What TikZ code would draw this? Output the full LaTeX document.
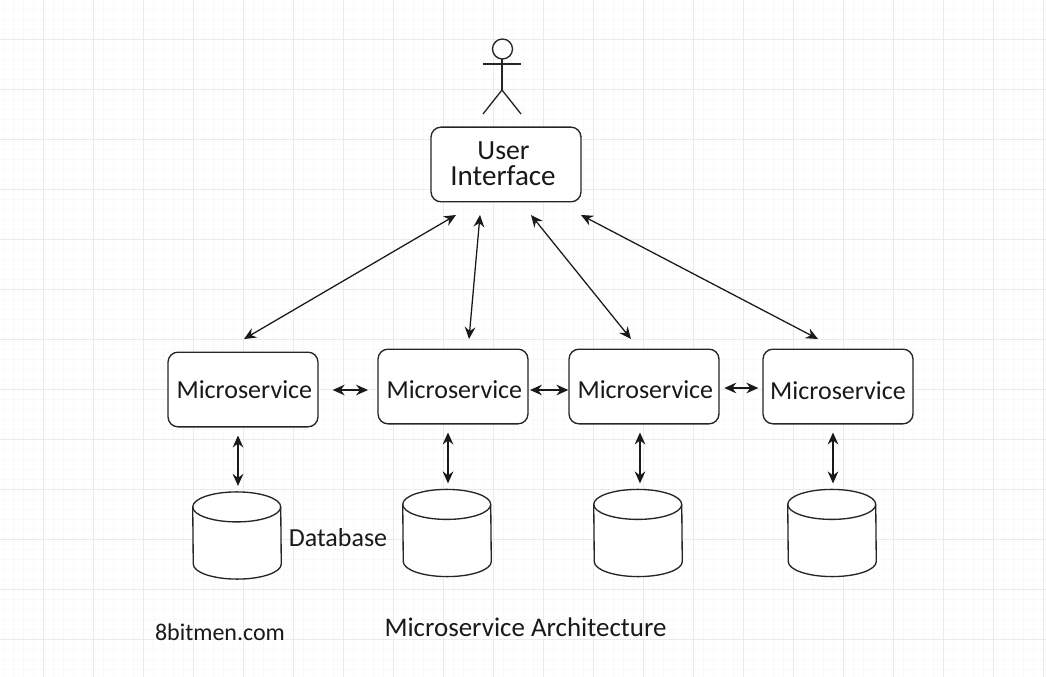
\documentclass[tikz,border=0pt]{standalone}
\usepackage{fontspec}
\setmainfont{Carlito}
\usetikzlibrary{arrows.meta}
\newcommand{\fsz}[1]{\fontsize{#1pt}{#1pt}\selectfont}
\tikzset{
  box/.style={draw=black!85,fill=white,rounded corners=7.5pt,line width=1pt,minimum width=112.5pt,minimum height=56pt,inner sep=0pt,align=center,font=\fsz{19.5},text=black!90},
  dbbody/.style={draw=black!85,fill=white,line width=1pt},
  dbspot/.style={minimum width=66pt,minimum height=65pt,inner sep=0pt},
  lbl/.style={font=\fsz{19.5},text=black!90,inner sep=0pt},
  link/.style={line width=0.95pt,draw=black!90,{Stealth[length=9pt,width=8pt,inset=3pt]}-{Stealth[length=9pt,width=8pt,inset=3pt]}},
  actorline/.style={line width=1pt,draw=black!85}
}
\newcommand{\dbdraw}[1]{%
  \draw[dbbody] (#1.north west) ++(0,15)
    arc[start angle=180,end angle=0,x radius=44,y radius=-15]
    -- ([yshift=11.25pt]#1.south east)
    arc[start angle=0,end angle=180,x radius=44,y radius=15]
    -- cycle;
  \draw[dbbody,fill=none] (#1.north west) ++(0,15)
    arc[start angle=180,end angle=360,x radius=44,y radius=-15];
}
\begin{document}
\begin{tikzpicture}[x=0.75pt,y=-0.75pt]
\useasboundingbox (0,0) rectangle (1046,677);
\fill[white] (0,0) rectangle (1046,677);
\foreach \i in {0,...,104} \draw[black!2.5,line width=0.6pt] ({3+10*\i},0) -- ({3+10*\i},677);
\foreach \i in {0,...,67} \draw[black!2.5,line width=0.6pt] (0,{9+10*\i}) -- (1046,{9+10*\i});
\foreach \i in {0,...,20} \draw[black!8,line width=0.6pt] ({43+50*\i},0) -- ({43+50*\i},677);
\foreach \i in {0,...,13} \draw[black!8,line width=0.6pt] (0,{39+50*\i}) -- (1046,{39+50*\i});
% actor
\draw[actorline] (502.5,49) circle (10);
\draw[actorline] (502,59) -- (502,90);
\draw[actorline] (483,64) -- (521,64);
\draw[actorline] (483,114) -- (502,90) -- (521,114);
% boxes
\node[box] (ui) at (506,164.5) {};
\node[lbl,font=\fsz{20.8}] (uia) at (503.5,150.5) {User};
\node[lbl,font=\fsz{21.8}] (uib) at (503,176) {Interface};
\node[box,text height=14pt] (ms1) at (243,389.5) {\hspace{2pt}Microservice};
\node[box,text height=18pt] (ms2) at (453,386.5) {\hspace{2pt}Microservice};
\node[box,text height=18pt] (ms3) at (644,386.5) {\hspace{2pt}Microservice};
\node[box,text height=19.5pt] (ms4) at (838,386.5) {Microservice};
% databases
\node[dbspot] (db1) at (237,535.5) {};
\node[dbspot] (db2) at (447,533) {};
\node[dbspot] (db3) at (638,533) {};
\node[dbspot] (db4) at (832,533) {};
\dbdraw{db1}\dbdraw{db2}\dbdraw{db3}\dbdraw{db4}
% labels
\node[lbl] (dbl) at (338,538) {Database};
\node[lbl,font=\fsz{18}] (site) at (220,632) {8bitmen.com};
\node[lbl,font=\fsz{20.2}] (title) at (525.5,627) {Microservice Architecture};
% connector ends
\coordinate (a1) at (456,215); \coordinate (b1) at (244,339);
\coordinate (a2) at (480,215); \coordinate (b2) at (469,339);
\coordinate (a3) at (531,215); \coordinate (b3) at (631,339);
\coordinate (a4) at (581,215); \coordinate (b4) at (818,339);
\draw[link] (a1) -- (b1);
\draw[link] (a2) -- (b2);
\draw[link] (a3) -- (b3);
\draw[link] (a4) -- (b4);
\draw[link,shorten <=10.5pt,shorten >=7pt] (ms1.east |- 0,390) -- (ms2.west |- 0,390);
\draw[link,shorten <=1pt,shorten >=0pt] (ms2.east |- 0,390) -- (ms3.west |- 0,390);
\draw[link,shorten <=3.5pt,shorten >=3pt] (ms3.east |- 0,388) -- (ms4.west |- 0,388);
\draw[link,shorten <=6pt,shorten >=4.5pt] (238,0 |- ms1.south) -- (238,0 |- db1.north);
\draw[link,shorten <=6pt,shorten >=4.5pt] (448,0 |- ms2.south) -- (448,0 |- db2.north);
\draw[link,shorten <=6pt,shorten >=4.5pt] (640,0 |- ms3.south) -- (640,0 |- db3.north);
\draw[link,shorten <=6pt,shorten >=4.5pt] (833,0 |- ms4.south) -- (833,0 |- db4.north);
\end{tikzpicture}
\end{document}
